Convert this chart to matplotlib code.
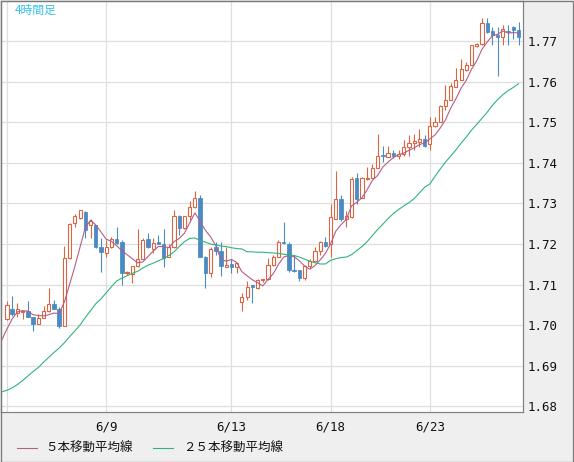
import matplotlib
matplotlib.use("Agg")
import matplotlib.pyplot as plt
from matplotlib.lines import Line2D
from matplotlib.patches import Rectangle

# ---- data (4-hour candles, index 0..98) ----
opens = [1.7015, 1.7041, 1.7031, 1.7032, 1.7034, 1.7021, 1.7004, 1.7019, 1.7034, 1.7052,
         1.7041, 1.6999, 1.7165, 1.7252, 1.7264, 1.7280, 1.7247, 1.7246, 1.7194, 1.7178,
         1.7193, 1.7213, 1.7206, 1.7129, 1.7126, 1.7145, 1.7163, 1.7213, 1.7189, 1.7204,
         1.7200, 1.7168, 1.7192, 1.7270, 1.7240, 1.7268, 1.7291, 1.7314, 1.7169, 1.7129,
         1.7192, 1.7182, 1.7144, 1.7151, 1.7144, 1.7058, 1.7070, 1.7099, 1.7091, 1.7111,
         1.7115, 1.7148, 1.7169, 1.7205, 1.7200, 1.7137, 1.7135, 1.7116, 1.7145, 1.7158,
         1.7184, 1.7204, 1.7199, 1.7263, 1.7311, 1.7262, 1.7266, 1.7363, 1.7314, 1.7360,
         1.7363, 1.7388, 1.7419, 1.7415, 1.7425, 1.7417, 1.7421, 1.7439, 1.7449, 1.7451,
         1.7460, 1.7446, 1.7490, 1.7501, 1.7541, 1.7556, 1.7587, 1.7605, 1.7628, 1.7641,
         1.7689, 1.7693, 1.7744, 1.7724, 1.7716, 1.7709, 1.7725, 1.7734, 1.7727]
highs = [1.7061, 1.7073, 1.7056, 1.7038, 1.7059, 1.7021, 1.7028, 1.7048, 1.7092, 1.7062,
         1.7044, 1.7196, 1.7251, 1.7274, 1.7285, 1.7281, 1.7263, 1.7247, 1.7215, 1.7210,
         1.7217, 1.7243, 1.7209, 1.7133, 1.7145, 1.7238, 1.7215, 1.7228, 1.7216, 1.7223,
         1.7238, 1.7199, 1.7283, 1.7271, 1.7268, 1.7306, 1.7332, 1.7322, 1.7170, 1.7192,
         1.7204, 1.7204, 1.7193, 1.7163, 1.7154, 1.7080, 1.7110, 1.7099, 1.7115, 1.7115,
         1.7165, 1.7172, 1.7209, 1.7254, 1.7204, 1.7172, 1.7135, 1.7149, 1.7164, 1.7194,
         1.7207, 1.7217, 1.7298, 1.7381, 1.7320, 1.7281, 1.7365, 1.7375, 1.7365, 1.7391,
         1.7398, 1.7470, 1.7441, 1.7441, 1.7433, 1.7433, 1.7456, 1.7468, 1.7472, 1.7484,
         1.7468, 1.7512, 1.7512, 1.7542, 1.7591, 1.7596, 1.7633, 1.7657, 1.7649, 1.7690,
         1.7696, 1.7756, 1.7756, 1.7735, 1.7734, 1.7740, 1.7740, 1.7737, 1.7748]
lows = [1.7014, 1.7023, 1.7021, 1.7016, 1.7020, 1.6986, 1.7002, 1.7018, 1.7033, 1.7039,
        1.6994, 1.6998, 1.7164, 1.7242, 1.7263, 1.7215, 1.7215, 1.7190, 1.7131, 1.7169,
        1.7191, 1.7201, 1.7099, 1.7125, 1.7103, 1.7143, 1.7163, 1.7190, 1.7179, 1.7200,
        1.7143, 1.7167, 1.7191, 1.7223, 1.7238, 1.7260, 1.7290, 1.7167, 1.7093, 1.7120,
        1.7173, 1.7122, 1.7144, 1.7129, 1.7130, 1.7035, 1.7063, 1.7056, 1.7089, 1.7106,
        1.7112, 1.7146, 1.7169, 1.7200, 1.7131, 1.7132, 1.7110, 1.7111, 1.7140, 1.7157,
        1.7172, 1.7193, 1.7167, 1.7262, 1.7258, 1.7241, 1.7265, 1.7299, 1.7314, 1.7359,
        1.7363, 1.7388, 1.7402, 1.7415, 1.7413, 1.7410, 1.7416, 1.7418, 1.7433, 1.7440,
        1.7440, 1.7432, 1.7488, 1.7500, 1.7530, 1.7556, 1.7586, 1.7604, 1.7627, 1.7641,
        1.7686, 1.7690, 1.7719, 1.7690, 1.7615, 1.7690, 1.7690, 1.7704, 1.7690]
closes = [1.7049, 1.7028, 1.7041, 1.7036, 1.7021, 1.7004, 1.7019, 1.7034, 1.7052, 1.7041,
          1.6999, 1.7165, 1.7250, 1.7268, 1.7283, 1.7235, 1.7258, 1.7192, 1.7180, 1.7193,
          1.7213, 1.7202, 1.7130, 1.7132, 1.7145, 1.7163, 1.7211, 1.7192, 1.7203, 1.7200,
          1.7166, 1.7192, 1.7270, 1.7240, 1.7268, 1.7291, 1.7314, 1.7167, 1.7128, 1.7188,
          1.7182, 1.7145, 1.7149, 1.7144, 1.7154, 1.7070, 1.7095, 1.7095, 1.7111, 1.7114,
          1.7149, 1.7168, 1.7206, 1.7202, 1.7136, 1.7133, 1.7116, 1.7145, 1.7158, 1.7184,
          1.7204, 1.7195, 1.7266, 1.7311, 1.7262, 1.7270, 1.7361, 1.7312, 1.7363, 1.7363,
          1.7388, 1.7418, 1.7416, 1.7425, 1.7418, 1.7423, 1.7440, 1.7450, 1.7453, 1.7460,
          1.7441, 1.7490, 1.7500, 1.7541, 1.7556, 1.7589, 1.7605, 1.7631, 1.7641, 1.7690,
          1.7693, 1.7744, 1.7723, 1.7716, 1.7709, 1.7731, 1.7722, 1.7727, 1.7709]

# moving averages, index -1 .. 98 (first value is the bar just left of the view)
ma5 = [1.6964,
       1.6991, 1.7016, 1.7033, 1.7036, 1.7035, 1.7026, 1.7024, 1.7023, 1.7026, 1.7030,
       1.7029, 1.7058, 1.7101, 1.7145, 1.7193, 1.7240, 1.7259, 1.7247, 1.7230, 1.7212,
       1.7207, 1.7196, 1.7184, 1.7174, 1.7164, 1.7154, 1.7156, 1.7169, 1.7183, 1.7194,
       1.7194, 1.7191, 1.7206, 1.7214, 1.7227, 1.7252, 1.7277, 1.7256, 1.7234, 1.7218,
       1.7196, 1.7162, 1.7158, 1.7162, 1.7155, 1.7132, 1.7122, 1.7112, 1.7105, 1.7097,
       1.7113, 1.7127, 1.7150, 1.7168, 1.7172, 1.7169, 1.7159, 1.7146, 1.7138, 1.7147,
       1.7161, 1.7177, 1.7201, 1.7232, 1.7248, 1.7261, 1.7294, 1.7303, 1.7314, 1.7334,
       1.7357, 1.7369, 1.7390, 1.7402, 1.7413, 1.7420, 1.7424, 1.7431, 1.7437, 1.7445,
       1.7449, 1.7459, 1.7469, 1.7486, 1.7506, 1.7535, 1.7558, 1.7584, 1.7604, 1.7631,
       1.7652, 1.7680, 1.7698, 1.7713, 1.7717, 1.7725, 1.7720, 1.7721, 1.7720]
ma25 = [1.6836,
        1.6840, 1.6846, 1.6854, 1.6864, 1.6875, 1.6886, 1.6896, 1.6909, 1.6921, 1.6933,
        1.6944, 1.6957, 1.6972, 1.6986, 1.7001, 1.7019, 1.7036, 1.7053, 1.7065, 1.7080,
        1.7095, 1.7109, 1.7116, 1.7122, 1.7128, 1.7133, 1.7141, 1.7148, 1.7153, 1.7159,
        1.7164, 1.7172, 1.7181, 1.7194, 1.7206, 1.7214, 1.7215, 1.7209, 1.7205, 1.7200,
        1.7198, 1.7195, 1.7194, 1.7191, 1.7189, 1.7188, 1.7181, 1.7181, 1.7180, 1.7180,
        1.7179, 1.7178, 1.7177, 1.7175, 1.7173, 1.7172, 1.7168, 1.7163, 1.7158, 1.7154,
        1.7151, 1.7151, 1.7160, 1.7164, 1.7167, 1.7168, 1.7174, 1.7184, 1.7194, 1.7206,
        1.7221, 1.7236, 1.7249, 1.7263, 1.7275, 1.7285, 1.7294, 1.7302, 1.7312, 1.7326,
        1.7340, 1.7348, 1.7367, 1.7385, 1.7402, 1.7417, 1.7432, 1.7449, 1.7464, 1.7481,
        1.7495, 1.7510, 1.7525, 1.7542, 1.7556, 1.7568, 1.7578, 1.7586, 1.7595]

tick_pos = [0, 19, 43, 62, 81]
tick_labels = ["", "6/9", "6/13", "6/18", "6/23"]
y_ticks = [1.68, 1.69, 1.70, 1.71, 1.72, 1.73, 1.74, 1.75, 1.76, 1.77]

UP = "#dc6440"
DOWN = "#4a8bc4"
MA5C = "#b65c86"
MA25C = "#2fb37a"
PX = 0.72  # one pixel in points at 100 dpi

W, H = 574, 462
fig = plt.figure(figsize=(W / 100, H / 100), dpi=100)
fig.patch.set_facecolor("#efefef")

ax = fig.add_axes([1 / W, 50 / H, 522 / W, 411 / H])
ax.set_facecolor("white")

n = len(closes)
xs = list(range(n))
for i in xs:
    o, h, l, c = opens[i], highs[i], lows[i], closes[i]
    up = c >= o
    col = UP if up else DOWN
    ax.vlines(i, l, h, color=col, linewidth=PX * 1.1, zorder=3)
    bottom = min(o, c)
    height = max(abs(c - o), 0.00005)
    if up:
        ax.bar(i, height, bottom=bottom, width=0.6, facecolor="white",
               edgecolor=col, linewidth=PX * 1.1, zorder=4)
    else:
        ax.bar(i, height, bottom=bottom, width=0.66, facecolor=col,
               edgecolor=col, linewidth=PX * 0.8, zorder=4)

ma_x = list(range(-1, n))
ax.plot(ma_x, ma5, color=MA5C, linewidth=PX * 1.1, zorder=5)
ax.plot(ma_x, ma25, color=MA25C, linewidth=PX * 1.1, zorder=5)

ax.set_xlim(-6 / 5.22, 516 / 5.22)
ax.set_ylim(1.67864, 1.77988)

ax.set_yticks(y_ticks)
ax.set_yticklabels([f"{v:.2f}" for v in y_ticks])
ax.yaxis.tick_right()
ax.set_xticks(tick_pos)
ax.set_xticklabels(tick_labels)
ax.tick_params(axis="both", length=0, labelsize=9, colors="#111111")
ax.tick_params(axis="y", pad=3)
ax.tick_params(axis="x", pad=6)
for lab in ax.get_xticklabels() + ax.get_yticklabels():
    lab.set_family("DejaVu Sans Mono")

ax.grid(True, color="#dedede", linewidth=PX * 1.2, zorder=0)
ax.set_axisbelow(True)
for s in ax.spines.values():
    s.set_color("#808080")
    s.set_linewidth(PX * 1.2)

# title inside plot
fig.text(15 / W, 1 - 10 / H, "4時間足", color="#35c3ee", fontsize=8.5,
         family=["Noto Sans CJK JP", "DejaVu Sans"], va="center", ha="left")

# legend below
ly = 1 - 448 / H
fig.add_artist(Line2D([17 / W, 37 / W], [ly, ly], color=MA5C, linewidth=PX * 1.1))
fig.text(45 / W, ly, "５本移動平均線", fontsize=9, color="#111111",
         family=["Noto Sans CJK JP", "DejaVu Sans"], va="center", ha="left")
fig.add_artist(Line2D([153 / W, 173 / W], [ly, ly], color=MA25C, linewidth=PX * 1.1))
fig.text(183 / W, ly, "２５本移動平均線", fontsize=9, color="#111111",
         family=["Noto Sans CJK JP", "DejaVu Sans"], va="center", ha="left")

# outer frame
fig.add_artist(Rectangle((0.5 / W, 0.5 / H), 1 - 1.5 / W, 1 - 1.5 / H,
                         transform=fig.transFigure, fill=False,
                         edgecolor="#7a7a7a", linewidth=PX * 1.3))

fig.savefig("out.png", dpi=100, facecolor=fig.get_facecolor())
